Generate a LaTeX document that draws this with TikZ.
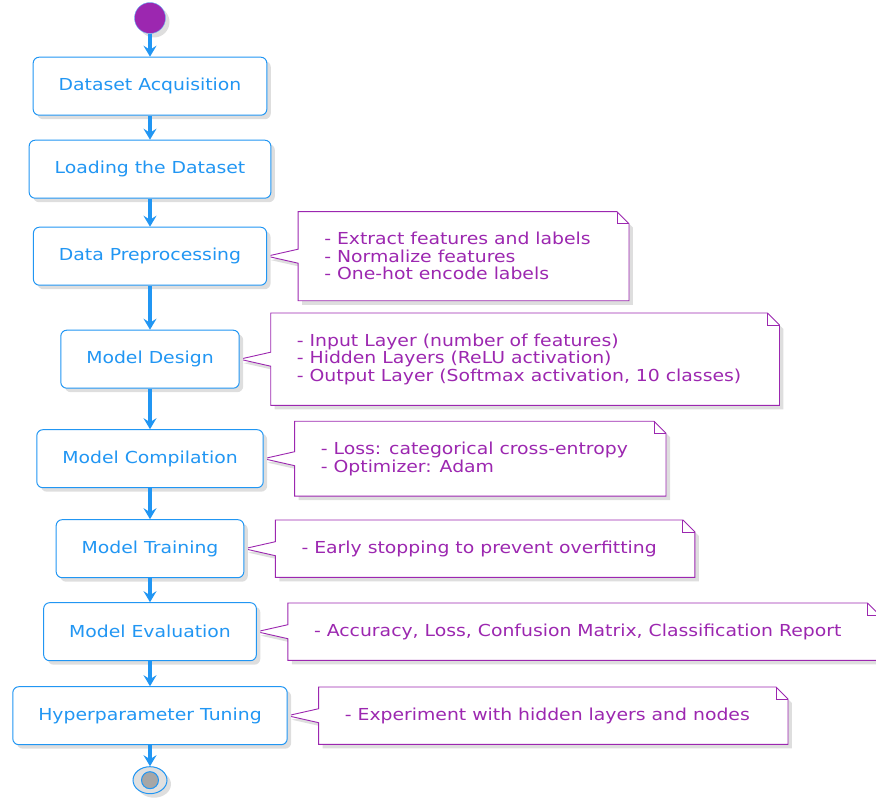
\documentclass[tikz,border=0pt]{standalone}
\usepackage{fontspec}
\setmainfont{DejaVu Sans}[FakeStretch=1.14]
\usepackage{xcolor}
\usepackage{tikz}
\usetikzlibrary{arrows.meta,positioning,shadows,backgrounds,shapes.geometric}
\definecolor{umlblue}{RGB}{33,150,243}
\definecolor{umlpurple}{RGB}{156,39,176}
\tikzset{
  umlshadow/.style={drop shadow={shadow xshift=4pt, shadow yshift=-4pt, fill=black!13, opacity=1}},
  stepbox/.style={draw=umlblue, line width=1pt, rounded corners=6pt, fill=white,
    text=umlblue, minimum height=58pt, inner xsep=25.5pt, umlshadow},
  notetext/.style={align=left, text=umlpurple, inner xsep=26pt, inner ysep=20.5pt},
  noteline/.style={draw=umlpurple, line width=0.9pt, fill=white, umlshadow},
  flow/.style={-{Stealth[length=11pt, width=13pt, inset=4pt]}, line width=3.5pt, draw=umlblue}
}

\begin{document}
\begin{tikzpicture}[font=\fontsize{16.5}{17.5}\selectfont]
    \useasboundingbox (0pt,0pt) rectangle (876pt,-799pt);
    \node[circle, minimum size=31pt, inner sep=0pt, fill=umlpurple, draw=umlblue!70, umlshadow] (start) at (150pt,-18pt) {};
    \node[stepbox, below=23pt of start] (acq) {Dataset Acquisition};
    \node[stepbox, below=24pt of acq] (load) {Loading the Dataset};
    \node[stepbox, below=28pt of load] (prep) {Data Preprocessing};
    \node[stepbox, below=44pt of prep] (design) {Model Design};
    \node[stepbox, below=40.5pt of design] (compile) {Model Compilation};
    \node[stepbox, below=31pt of compile] (train) {Model Training};
    \node[stepbox, below=24pt of train] (eval) {Model Evaluation};
    \node[stepbox, below=25pt of eval] (tune) {Hyperparameter Tuning};
    \node[ellipse, minimum width=34pt, minimum height=27pt, inner sep=0pt, draw=umlblue, line width=1pt, fill=black!12, umlshadow, below=21pt of tune] (stop) {};
    \node[circle, minimum size=17pt, inner sep=0pt, draw=umlblue, line width=1pt, fill=black!35] (stopdot) at (stop) {};
    \foreach \a/\b in {start/acq, acq/load, load/prep, prep/design, design/compile, compile/train, train/eval, eval/tune, tune/stop}
        \draw[flow] (\a) -- (\b);
    % notes
    \node[notetext, right=31pt of prep] (prepnote) {- Extract features and labels\\- Normalize features\\- One-hot encode labels};
    \node[notetext, right=31pt of design] (designnote) {- Input Layer (number of features)\\- Hidden Layers (ReLU activation)\\- Output Layer (Softmax activation, 10 classes)};
    \node[notetext, right=31pt of compile] (compilenote) {- Loss: categorical cross-entropy\\- Optimizer: Adam};
    \node[notetext, right=31pt of train] (trainnote) {- Early stopping to prevent overfitting};
    \node[notetext, right=31pt of eval] (evalnote) {- Accuracy, Loss, Confusion Matrix, Classification Report};
    \node[notetext, right=31pt of tune] (tunenote) {- Experiment with hidden layers and nodes};
    \begin{scope}[on background layer]
        \foreach \n/\s in {prepnote/prep, designnote/design, compilenote/compile, trainnote/train, evalnote/eval, tunenote/tune}{
            \draw[noteline] (\n.north west) -- (\n.north east) -- ([xshift=12pt, yshift=-12pt]\n.north east)
                |- (\n.south west) -- ([yshift=-7pt]\n.west) -- (\s.east) -- ([yshift=7pt]\n.west) -- cycle;
            \draw[umlpurple, line width=0.9pt] (\n.north east) -- ++(0pt,-12pt) -- ++(12pt,0pt);
        }
    \end{scope}
\end{tikzpicture}
\end{document}
